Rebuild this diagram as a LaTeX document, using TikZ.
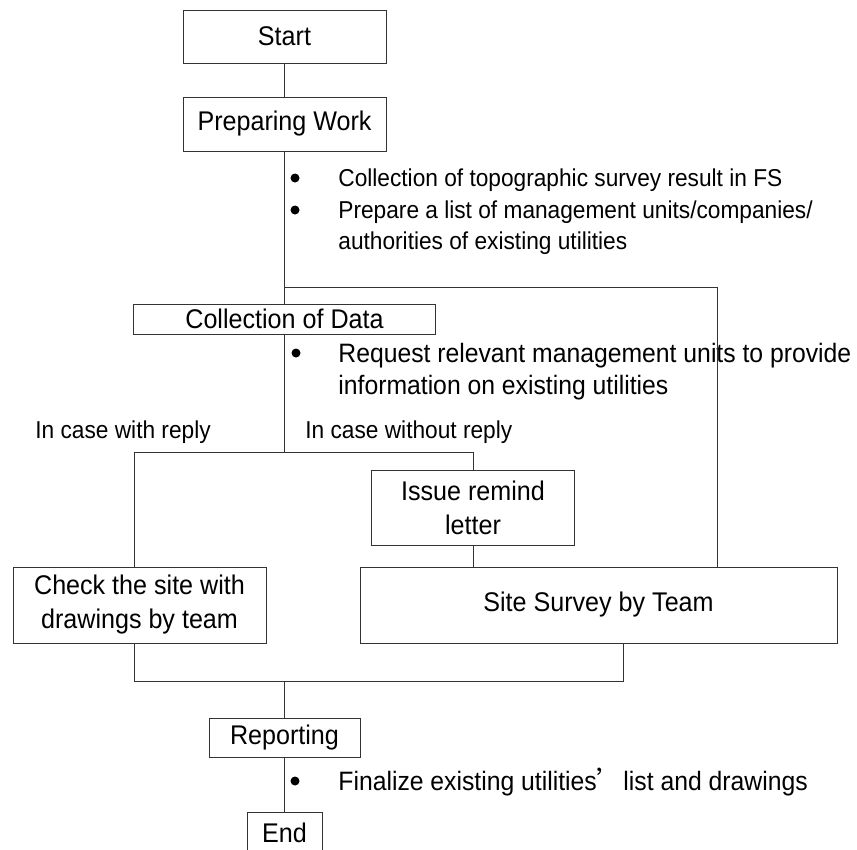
\documentclass[tikz,border=0pt]{standalone}
\usepackage{fontspec}
\setmainfont[FakeStretch=0.93]{Liberation Sans}
\newfontfamily\jpfont[RawFeature=+fwid]{Noto Sans CJK JP}
\usetikzlibrary{calc}

\begin{document}
\begin{tikzpicture}[x=1pt, y=-1pt, line width=0.8pt]
\tikzset{
  box/.style={draw=black!80, rectangle, inner sep=0, align=center, font=\fontsize{27}{34}\selectfont},
  bigtxt/.style={anchor=base west, inner sep=0, font=\fontsize{26.6}{34}\selectfont},
  smalltxt/.style={anchor=base west, inner sep=0, font=\fontsize{24.4}{30}\selectfont},
  dot/.style={circle, fill=black, inner sep=0, minimum size=9},
  link/.style={draw=black!80}
}

\useasboundingbox (0,0) rectangle (857,849);

\node[box, minimum width=203, minimum height=53] (start) at (284.5,36.5) {Start};
\node[box, minimum width=203, minimum height=54] (prep) at (284.5,124) {Preparing Work};
\node[box, minimum width=302, minimum height=30] (collect) at (284.5,319) {Collection of Data};
\node[box, minimum width=203, minimum height=75] (issue) at (473,507.5) {Issue remind\\letter};
\node[box, minimum width=253, minimum height=76] (check) at (139.5,605) {Check the site with\\drawings by team};
\node[box, minimum width=477, minimum height=76] (survey) at (598.5,605) {Site Survey by Team};
\node[box, minimum width=151, minimum height=39] (report) at (284.5,737.5) {Reporting};
\node[box, minimum width=75, minimum height=41] (endbox) at (284.5,832.5) {End};

% notes beside the main line
\node[dot] (d1) at (295,178) {};
\node[smalltxt] (n1) at (338,186) {Collection of topographic survey result in FS};
\node[dot] (d2) at (295,210) {};
\node[smalltxt] (n2) at (338,218) {Prepare a list of management units/companies/};
\node[smalltxt] (n3) at (338,249) {authorities of existing utilities};

\node[dot] (d3) at (296,353) {};
\node[bigtxt] (n4) at (338,362) {Request relevant management units to provide};
\node[bigtxt] (n5) at (338,394) {information on existing utilities};

\node[smalltxt] (withreply) at (35,438) {In case with reply};
\node[smalltxt] (noreply) at (305,438) {In case without reply};

\node[dot] (d4) at (295,781) {};
\node[bigtxt] (n6) at (338,790) {Finalize existing utilities{\jpfont ’}list and drawings};

% junctions
\coordinate (j1) at (284.5,287);
\coordinate (j1r) at (717,287);
\coordinate (j2) at (284.5,452);
\coordinate (j2l) at (134,452);
\coordinate (j2r) at (473,452);
\coordinate (j3l) at (134,681);
\coordinate (j3r) at (623,681);
\coordinate (j3) at (284.5,681);

\draw[link] (start) -- (prep);
\draw[link] (prep) -- (collect);
\draw[link] (j1) -- (j1r) -- (j1r |- survey.north);
\draw[link] (collect) -- (j2);
\draw[link] (j2l) -- (j2r);
\draw[link] (j2l) -- (j2l |- check.north);
\draw[link] (j2r) -- (issue);
\draw[link] (issue) -- (issue.south |- survey.north);
\draw[link] (j3l |- check.south) -- (j3l) -- (j3r) -- (j3r |- survey.south);
\draw[link] (j3) -- (report);
\draw[link] (report) -- (endbox);

\end{tikzpicture}
\end{document}
